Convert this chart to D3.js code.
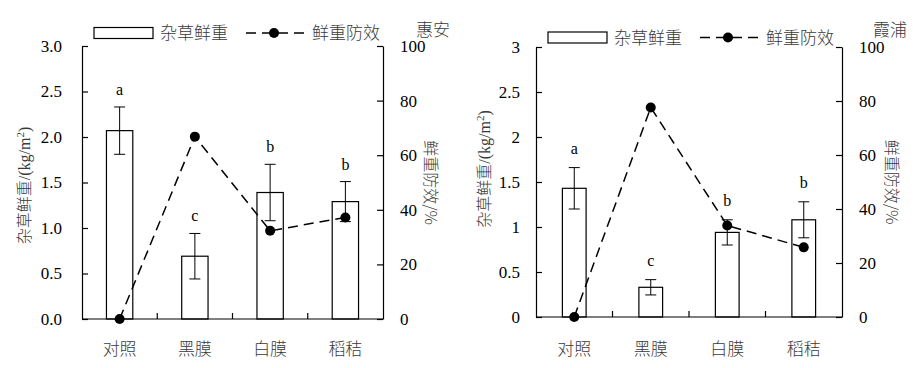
<!DOCTYPE html>
<html><head><meta charset="utf-8">
<script src="https://cdn.jsdelivr.net/npm/d3@7"></script>
<style>
body{margin:0;background:#fff;}
svg{display:block;}
</style></head>
<body>
<script>
// ---- data ----
const categories = ["对照", "黑膜", "白膜", "稻秸"];
const huianWeight = [2.07, 0.69, 1.39, 1.29];
const huianErr = [0.26, 0.25, 0.31, 0.22];
const huianEff = [0, 66.8, 32.3, 37.2];
const huianLetters = ["a", "c", "b", "b"];
const xiapuWeight = [1.43, 0.33, 0.94, 1.08];
const xiapuErr = [0.23, 0.085, 0.14, 0.20];
const xiapuEff = [0, 77.6, 33.9, 25.8];
const xiapuLetters = ["a", "c", "b", "b"];
const leftTicks = [0, 0.5, 1, 1.5, 2, 2.5, 3];
const rightTicks = [0, 20, 40, 60, 80, 100];
const legendBar = "杂草鲜重";
const legendLine = "鲜重防效";
const yTitleCn = "杂草鲜重";
const y2Title = "鲜重防效/%";

const W = 920, H = 368;
const svg = d3.select("body").append("svg").attr("width", W).attr("height", H);
const NUM = "'Liberation Serif','Times New Roman',serif";
const CJK = "'Noto Sans CJK SC','Noto Sans CJK JP',sans-serif";
const CJKCOL = "#3a3a3a";
const DASH = "10,6";

function panel(o) {
  const g = svg.append("g");
  const x = d3.scaleBand().domain(categories).range([o.left, o.right]).padding(0);
  const y = d3.scaleLinear().domain([0, 3]).range([o.bottom, o.top]);
  const y2 = d3.scaleLinear().domain([0, 100]).range([o.bottom, o.top]);
  const bw = x.bandwidth() * o.barFrac;

  // bars
  g.selectAll("rect.bar").data(o.weight).join("rect")
    .attr("x", (d, i) => x(categories[i]) + x.bandwidth() / 2 - bw / 2)
    .attr("y", d => y(d)).attr("width", bw).attr("height", d => y(0) - y(d))
    .attr("fill", "#fff").attr("stroke", "#000").attr("stroke-width", 1.2);

  // error bars
  o.weight.forEach((d, i) => {
    const cx = x(categories[i]) + x.bandwidth() / 2;
    const e = o.err[i];
    g.append("line").attr("x1", cx).attr("x2", cx).attr("y1", y(d + e)).attr("y2", y(d - e))
      .attr("stroke", "#000").attr("stroke-width", 1);
    [d + e, d - e].forEach(v => g.append("line").attr("x1", cx - 5.5).attr("x2", cx + 5.5)
      .attr("y1", y(v)).attr("y2", y(v)).attr("stroke", "#000").attr("stroke-width", 1));
    g.append("text").attr("x", cx).attr("y", y(d + e) - o.letterGap)
      .attr("text-anchor", "middle").attr("font-family", NUM).attr("font-size", 16)
      .attr("fill", "#000").text(o.letters[i]);
  });

  // line
  const line = d3.line().x((d, i) => x(categories[i]) + x.bandwidth() / 2).y(d => y2(d));
  g.append("path").attr("d", line(o.eff)).attr("fill", "none").attr("stroke", "#000")
    .attr("stroke-width", 1.5).attr("stroke-dasharray", DASH);
  g.selectAll("circle.pt").data(o.eff).join("circle")
    .attr("cx", (d, i) => x(categories[i]) + x.bandwidth() / 2).attr("cy", d => y2(d))
    .attr("r", 5).attr("fill", "#000");

  // axes
  const ax = g.append("g").attr("transform", `translate(${o.left},0)`)
    .call(d3.axisLeft(y).tickValues(leftTicks).tickFormat(o.fmt).tickSizeInner(-6).tickSizeOuter(0).tickPadding(o.lpad));
  const ax2 = g.append("g").attr("transform", `translate(${o.right},0)`)
    .call(d3.axisRight(y2).tickValues(rightTicks).tickSizeInner(-6).tickSizeOuter(0).tickPadding(17));
  [ax, ax2].forEach(a => {
    a.selectAll("text").attr("font-family", NUM).attr("font-size", 17).attr("fill", "#000");
    a.selectAll("line,path").attr("stroke", "#000").attr("stroke-width", 1.2);
  });
  // bottom axis
  g.append("line").attr("x1", o.left).attr("x2", o.right).attr("y1", o.bottom).attr("y2", o.bottom)
    .attr("stroke", "#000").attr("stroke-width", 1.2);
  categories.slice(1).forEach(c => g.append("line").attr("x1", x(c)).attr("x2", x(c))
    .attr("y1", o.bottom).attr("y2", o.bottom - 6).attr("stroke", "#000").attr("stroke-width", 1.2));
  categories.forEach(c => g.append("text").attr("x", x(c) + x.bandwidth() / 2).attr("y", 355)
    .attr("text-anchor", "middle").attr("font-family", CJK).attr("font-weight", 300)
    .attr("font-size", 17).attr("fill", CJKCOL).text(c));

  // y title
  const t = g.append("text").attr("transform", `translate(${o.ytx},${(o.top + o.bottom) / 2 + o.tyOff}) rotate(-90)`)
    .attr("text-anchor", "middle").attr("font-size", 16).attr("fill", CJKCOL);
  t.append("tspan").attr("font-family", CJK).attr("font-weight", 300).text(yTitleCn);
  t.append("tspan").attr("font-family", NUM).text("/(kg/m");
  t.append("tspan").attr("font-family", NUM).attr("font-size", 11).attr("dy", -6).text("2");
  t.append("tspan").attr("font-family", NUM).attr("dy", 6).text(")");

  // y2 title
  g.append("text").attr("transform", `translate(${o.y2tx},${(o.top + o.bottom) / 2 + o.ty2Off}) rotate(90)`)
    .attr("text-anchor", "middle").attr("font-family", CJK).attr("font-weight", 300)
    .attr("font-size", 16).attr("fill", CJKCOL).text(y2Title);

  // legend
  const ly = o.legY;
  g.append("rect").attr("x", o.legX).attr("y", ly - 5.5).attr("width", 59).attr("height", 11)
    .attr("fill", "#fff").attr("stroke", "#000").attr("stroke-width", 1.2);
  g.append("text").attr("x", o.legX + 66).attr("y", ly + 6).attr("font-family", CJK).attr("font-weight", 300)
    .attr("font-size", 17).attr("fill", CJKCOL).text(legendBar);
  const lx = o.legX + 152;
  g.append("line").attr("x1", lx).attr("x2", lx + 59).attr("y1", ly).attr("y2", ly)
    .attr("stroke", "#000").attr("stroke-width", 1.5).attr("stroke-dasharray", DASH);
  g.append("circle").attr("cx", lx + 28).attr("cy", ly).attr("r", 5).attr("fill", "#000");
  g.append("text").attr("x", lx + 66).attr("y", ly + 6).attr("font-family", CJK).attr("font-weight", 300)
    .attr("font-size", 17).attr("fill", CJKCOL).text(legendLine);
  g.append("text").attr("x", o.siteX).attr("y", o.siteY).attr("font-family", CJK).attr("font-weight", 300)
    .attr("font-size", 17).attr("fill", CJKCOL).text(o.site);
}

panel({left: 82, right: 383, top: 46, bottom: 319, barFrac: 0.35, weight: huianWeight, err: huianErr,
  eff: huianEff, letters: huianLetters, fmt: d3.format(".1f"), lpad: 20, letterGap: 12,
  ytx: 30, tyOff: 3, y2tx: 425, ty2Off: 0, legX: 94, legY: 33, site: "惠安", siteX: 416, siteY: 36});
panel({left: 536, right: 842, top: 47, bottom: 317, barFrac: 0.31, weight: xiapuWeight, err: xiapuErr,
  eff: xiapuEff, letters: xiapuLetters, fmt: d => String(d), lpad: 16, letterGap: 14,
  ytx: 490, tyOff: -13, y2tx: 886, ty2Off: 0, legX: 548, legY: 37.5, site: "霞浦", siteX: 873, siteY: 36});
</script>
</body></html>
